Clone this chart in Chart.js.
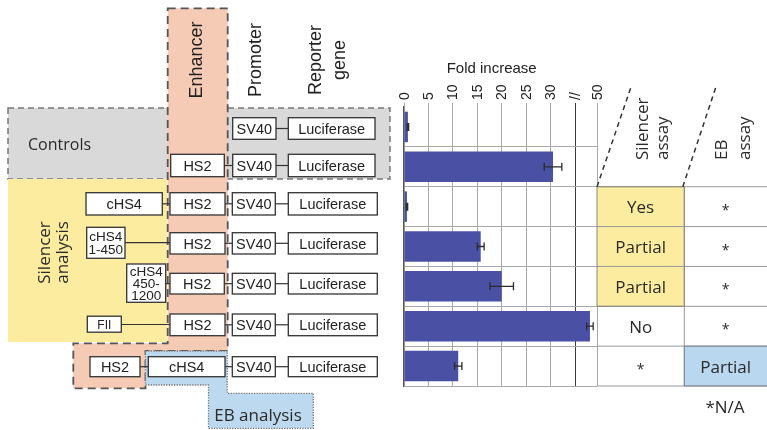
<!DOCTYPE html>
<html>
<head>
<meta charset="utf-8">
<title>cHS4 reporter assays</title>
<script src="https://cdn.jsdelivr.net/npm/chart.js@4.4.0/dist/chart.umd.min.js"></script>
<style>
  html, body { margin: 0; padding: 0; background: #fff; }
  #wrap { position: relative; width: 767px; height: 430px; overflow: hidden; }
  #chart, #art { position: absolute; left: 0; top: 0; }
  .hv { font-family: "Liberation Sans", Arial, sans-serif; fill: #222; }
  .my { font-family: "Open Sans", "Noto Sans", sans-serif; fill: #2a2a2a; }
</style>
</head>
<body>
<div id="wrap">
  <canvas id="chart" width="767" height="430"></canvas>
  <svg id="art" width="767" height="430" xmlns="http://www.w3.org/2000/svg">
    <!-- group panels -->
    <rect x="8" y="108" width="382" height="71" fill="#d9d9d9" stroke="#777" stroke-width="1.5" stroke-dasharray="6 4"/>
    <rect x="8" y="179" width="159" height="163" fill="#fcec9f"/>
    <path d="M167.7 8.3 H227.7 V351 H145.5 V388.3 H73.3 V343.3 H167.7 Z" fill="#f5cbb6" stroke="#555" stroke-width="1.8" stroke-dasharray="8 5"/>
    <path d="M145.5 351 H227.2 V393.3 H313.3 V428.3 H208.5 V385 H145.5 Z" fill="#bcd9ef" stroke="#777" stroke-width="1.3" stroke-dasharray="1.3 1.3"/>
    <g id="parts"></g>
    <g id="table"></g>

    <!-- column headings -->
    <text class="hv" font-size="18" text-anchor="middle" transform="translate(201.5,60) rotate(-90)">Enhancer</text>
    <text class="hv" font-size="18" text-anchor="middle" transform="translate(261,60) rotate(-90)">Promoter</text>
    <text class="hv" font-size="18" text-anchor="middle" transform="translate(321,60) rotate(-90)">Reporter</text>
    <text class="hv" font-size="18" text-anchor="middle" transform="translate(344.5,60) rotate(-90)">gene</text>

    <text class="my" font-size="16" x="28" y="150">Controls</text>
    <text class="my" font-size="17" text-anchor="middle" transform="translate(50,252.5) rotate(-90)">Silencer</text>
    <text class="my" font-size="17" text-anchor="middle" transform="translate(67.5,252.5) rotate(-90)">analysis</text>
    <text class="my" font-size="17" text-anchor="middle" x="258" y="421">EB analysis</text>

    <text class="hv" font-size="15" text-anchor="middle" x="491.7" y="73">Fold increase</text>

    <text class="my" font-size="17" transform="translate(648,160) rotate(-90)">Silencer</text>
    <text class="my" font-size="17" transform="translate(667.5,160) rotate(-90)">assay</text>
    <text class="my" font-size="17" transform="translate(726.7,160) rotate(-90)">EB</text>
    <text class="my" font-size="17" transform="translate(749.5,160) rotate(-90)">assay</text>
    <text class="my" font-size="17" text-anchor="middle" x="725" y="413">*N/A</text>
  </svg>
</div>
<script>
// ── Data ──────────────────────────────────────────────────────────
const CONSTRUCTS  = ["SV40", "HS2", "cHS4-HS2", "cHS4(1-450)-HS2", "cHS4(450-1200)-HS2", "FII-HS2", "HS2-cHS4"];
const FOLD        = [0.8, 30.5, 0.6, 15.7, 20.0, 45.2, 11.1];
const FOLD_ERR    = [0.15, 1.8, 0.15, 0.7, 2.4, 2.2, 0.75];
const TICK_VALUES = [0, 5, 10, 15, 20, 25, 30, 35, 50];
const TICK_LABELS = ["0", "5", "10", "15", "20", "25", "30", "//", "50"];
const SILENCER    = ["", "", "Yes", "Partial", "Partial", "No", "*"];
const EB_ASSAY    = ["", "", "*", "*", "*", "*", "Partial"];

// broken axis: 35 -> 50 squeezed into a short stretch
const BREAK_AT  = 35;
const BREAK_END = 50;
const AXIS_MAX  = 39.5;

const BAR_COLOR = "#4a51a5";
const YELLOW    = "#fcec9f";
const BLUE      = "#b9d7ee";

function axisPos(v) {
  if (v <= BREAK_AT) return v;
  return BREAK_AT + (v - BREAK_AT) * (AXIS_MAX - BREAK_AT) / (BREAK_END - BREAK_AT);
}

// ── SVG helpers ───────────────────────────────────────────────────
const NS = "http://www.w3.org/2000/svg";
function el(parent, tag, attrs, text) {
  const e = document.createElementNS(NS, tag);
  for (const k in attrs) e.setAttribute(k, attrs[k]);
  if (text !== undefined) e.textContent = text;
  parent.appendChild(e);
  return e;
}

// ── Construct diagrams (left) ─────────────────────────────────────
const LINKS = [
  [276, 288.3, 128.5],
  [224.3, 232.7, 165.5], [276, 288.3, 165.5],
  [162.3, 170, 203.8], [225, 232.3, 203.8], [275.3, 288.3, 203.8],
  [125, 170, 242.7], [225, 232.3, 243.3], [275.3, 288.3, 243.3],
  [165.7, 170, 283.7], [224.3, 232.3, 283.7], [275.3, 288.3, 283.7],
  [120.7, 170, 324.5], [225, 232.3, 324.8], [275.3, 288.3, 324.8],
  [140, 148.3, 366.7], [225, 232.3, 366.7], [275.3, 288.3, 366.7],
];

const BOXES = [
  { x: 232.7, y: 117.7, w: 43.3, h: 21.6, t: ["SV40"] },
  { x: 288.3, y: 117.7, w: 86.7, h: 21.6, t: ["Luciferase"] },

  { x: 170.7, y: 154.3, w: 53.6, h: 22.4, t: ["HS2"] },
  { x: 232.7, y: 154.3, w: 43.3, h: 22.4, t: ["SV40"] },
  { x: 288.3, y: 154.3, w: 86.7, h: 22.4, t: ["Luciferase"] },

  { x: 86,    y: 192.7, w: 76.3, h: 22.3, t: ["cHS4"] },
  { x: 170,   y: 192.7, w: 55,   h: 22.3, t: ["HS2"] },
  { x: 232.3, y: 192.7, w: 43,   h: 22.3, t: ["SV40"] },
  { x: 288.3, y: 192.7, w: 89,   h: 22.3, t: ["Luciferase"] },

  { x: 86.7,  y: 227.3, w: 38.3, h: 31,   t: ["cHS4", "1-450"], fs: 13.5, lh: 13 },
  { x: 170,   y: 232.7, w: 55,   h: 21.3, t: ["HS2"] },
  { x: 232.3, y: 232.7, w: 43,   h: 21.3, t: ["SV40"] },
  { x: 288.3, y: 232.7, w: 89,   h: 21.3, t: ["Luciferase"] },

  { x: 126.7, y: 264,   w: 39,   h: 38.3, t: ["cHS4", "450-", "1200"], fs: 13.5, lh: 12 },
  { x: 170,   y: 273.3, w: 54.3, h: 20.7, t: ["HS2"] },
  { x: 232.3, y: 273.3, w: 43,   h: 20.7, t: ["SV40"] },
  { x: 288.3, y: 273.3, w: 89,   h: 20.7, t: ["Luciferase"] },

  { x: 87.3,  y: 316.2, w: 34,   h: 16,   t: ["FII"], fs: 12 },
  { x: 170,   y: 314,   w: 55,   h: 21.7, t: ["HS2"] },
  { x: 232.3, y: 314,   w: 43,   h: 21.7, t: ["SV40"] },
  { x: 288.3, y: 314,   w: 89,   h: 21.7, t: ["Luciferase"] },

  { x: 90,    y: 356.7, w: 50,   h: 20,   t: ["HS2"] },
  { x: 148.3, y: 356.7, w: 76.7, h: 20,   t: ["cHS4"] },
  { x: 232.3, y: 356.7, w: 43,   h: 20,   t: ["SV40"] },
  { x: 288.3, y: 356.7, w: 89,   h: 20,   t: ["Luciferase"] },
];

const parts = document.getElementById("parts");
LINKS.forEach(([x1, x2, y]) => {
  el(parts, "line", { x1, x2, y1: y, y2: y, stroke: "#333", "stroke-width": 1.2 });
});
BOXES.forEach((b) => {
  el(parts, "rect", { x: b.x, y: b.y, width: b.w, height: b.h, fill: "#fff", stroke: "#333", "stroke-width": 1.3 });
  const fs = b.fs || 14.5;
  const lh = b.lh || fs;
  const first = b.y + b.h / 2 - (b.t.length - 1) * lh / 2 + 0.36 * fs;
  b.t.forEach((line, i) => {
    el(parts, "text", { class: "hv", "font-size": fs, "text-anchor": "middle", x: b.x + b.w / 2, y: first + i * lh }, line);
  });
});

// ── Error bars plugin ─────────────────────────────────────────────
const errorBars = {
  id: "errorBars",
  afterDatasetsDraw(chart) {
    const { ctx } = chart;
    const xs = chart.scales.x;
    const meta = chart.getDatasetMeta(0);
    ctx.save();
    ctx.strokeStyle = "#2b2b2b";
    ctx.lineWidth = 1.3;
    meta.data.forEach((bar, i) => {
      const lo = xs.getPixelForValue(axisPos(Math.max(0, FOLD[i] - FOLD_ERR[i])));
      const hi = xs.getPixelForValue(axisPos(FOLD[i] + FOLD_ERR[i]));
      const y = bar.y;
      ctx.beginPath();
      ctx.moveTo(lo, y); ctx.lineTo(hi, y);
      ctx.moveTo(lo, y - 4); ctx.lineTo(lo, y + 4);
      ctx.moveTo(hi, y - 4); ctx.lineTo(hi, y + 4);
      ctx.stroke();
    });
    ctx.restore();
  },
};

// ── Chart ─────────────────────────────────────────────────────────
const chart = new Chart(document.getElementById("chart"), {
  type: "bar",
  data: {
    labels: CONSTRUCTS,
    datasets: [{
      data: FOLD.map(axisPos),
      backgroundColor: BAR_COLOR,
      barPercentage: 0.765,
      categoryPercentage: 1,
    }],
  },
  options: {
    indexAxis: "y",
    responsive: false,
    animation: false,
    layout: { padding: { left: 404, right: 170, top: 77, bottom: 44 } },
    plugins: { legend: { display: false }, tooltip: { enabled: false } },
    scales: {
      x: {
        type: "linear",
        position: "top",
        min: 0,
        max: AXIS_MAX,
        afterBuildTicks: (s) => { s.ticks = TICK_VALUES.map((v) => ({ value: axisPos(v) })); },
        afterFit: (s) => { s.height = 30; },
        ticks: {
          autoSkip: false,
          minRotation: 90,
          maxRotation: 90,
          padding: 3,
          labelOffset: 17.5,
          color: "#222",
          font: { family: "'Liberation Sans', Arial, sans-serif", size: 14 },
          callback: (v, i) => TICK_LABELS[i],
        },
        grid: {
          color: (c) => (c.tick && c.tick.value === BREAK_AT ? "#3a3a3a" : "#a8a8a8"),
          lineWidth: 1,
          tickLength: 4,
        },
        border: { display: false },
      },
      y: {
        afterFit: (s) => { s.width = 0; },
        ticks: { display: false },
        grid: {
          color: (c) => (c.index === 0 ? "rgba(0,0,0,0)" : "#a8a8a8"),
          drawTicks: false,
        },
        border: { display: true, color: "#555", width: 1.2 },
      },
    },
  },
  plugins: [errorBars],
});

// ── Assay table (right), rows follow the chart's categories ───────
(function drawTable() {
  const ys = chart.scales.y;
  const n = CONSTRUCTS.length;
  const step = ys.getPixelForValue(1) - ys.getPixelForValue(0);
  const bound = (i) => ys.getPixelForValue(i) - step / 2;
  const xL = 597, xM = 684.3, xR = 767;
  const g = document.getElementById("table");

  el(g, "rect", { x: xL, y: bound(2), width: xM - xL, height: bound(5) - bound(2), fill: YELLOW });
  el(g, "rect", { x: xM, y: bound(6), width: xR - xM, height: bound(7) - bound(6), fill: BLUE });

  for (let i = 2; i <= n; i++) {
    el(g, "line", { x1: xL, x2: xR, y1: bound(i), y2: bound(i), stroke: "#999", "stroke-width": 1 });
  }
  el(g, "line", { x1: xM, x2: xM, y1: bound(2), y2: bound(n), stroke: "#999", "stroke-width": 1 });
  el(g, "rect", { x: xL, y: bound(2), width: xM - xL, height: bound(5) - bound(2), fill: "none", stroke: "#8a8a80", "stroke-width": 1 });
  el(g, "rect", { x: xM, y: bound(6), width: xR - xM + 2, height: bound(7) - bound(6), fill: "none", stroke: "#7a8a99", "stroke-width": 1 });

  // dashed header slants
  el(g, "line", { x1: xL, y1: bound(2), x2: 631.7, y2: 85, stroke: "#333", "stroke-width": 1.5, "stroke-dasharray": "5 4" });
  el(g, "line", { x1: xM - 1.5, y1: bound(2), x2: 716, y2: 86.7, stroke: "#333", "stroke-width": 1.5, "stroke-dasharray": "5 4" });

  const cols = [[SILENCER, (xL + xM) / 2], [EB_ASSAY, (xM + xR) / 2]];
  for (let i = 0; i < n; i++) {
    const cy = ys.getPixelForValue(i);
    cols.forEach(([vals, cx]) => {
      const v = vals[i];
      if (!v) return;
      if (v === "*") {
        el(g, "text", { class: "my", "font-size": 14, "text-anchor": "middle", x: cx, y: cy + 8 }, v);
      } else {
        el(g, "text", { class: "my", "font-size": 17, "text-anchor": "middle", x: cx, y: cy + 6.5 }, v);
      }
    });
  }
})();
</script>
</body>
</html>
